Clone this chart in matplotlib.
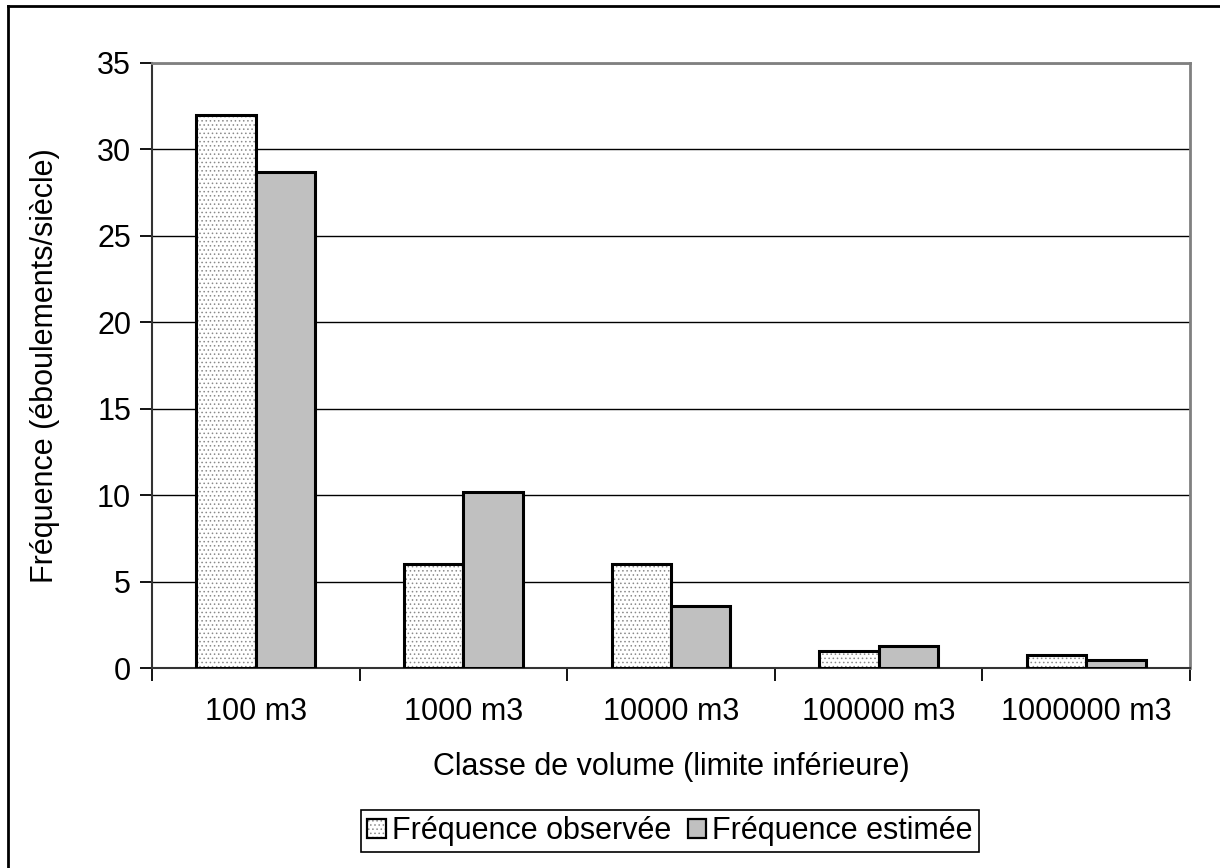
import matplotlib
matplotlib.use("Agg")
import matplotlib.pyplot as plt
import numpy as np
from matplotlib.patches import Patch
from matplotlib.lines import Line2D
from matplotlib.legend_handler import HandlerTuple

plt.rcParams['font.family'] = ['Liberation Sans', 'DejaVu Sans']
plt.rcParams['hatch.linewidth'] = 0.6

categories = ["100 m3", "1000 m3", "10000 m3", "100000 m3", "1000000 m3"]
observed = [32, 6, 6, 1.0, 0.75]
estimated = [28.7, 10.2, 3.6, 1.3, 0.45]
series_names = ["Fréquence observée", "Fréquence estimée"]
y_ticks = [0, 5, 10, 15, 20, 25, 30, 35]

FS = 22
W, H = 1220, 868
fig = plt.figure(figsize=(W / 100, H / 100), dpi=100)
ax = fig.add_axes([152 / W, 1 - 668 / H, (1190 - 152) / W, (668 - 63) / H])

x = np.arange(len(categories))
bw = 1 / 3.5

# observed: stippled fill, then a black outline on top
ax.bar(x - bw / 2, observed, bw, color="white", edgecolor="#8a8a8a",
       hatch="....", linewidth=0, zorder=3)
ax.bar(x - bw / 2, observed, bw, fill=False, edgecolor="black",
       linewidth=2.2, zorder=4)
# estimated: plain silver
ax.bar(x + bw / 2, estimated, bw, color="#c0c0c0", edgecolor="black",
       linewidth=2.2, zorder=4)

ax.set_xlim(-0.5, len(categories) - 0.5)
ax.set_ylim(0, 35)
ax.set_yticks(y_ticks)
ax.yaxis.grid(True, color="black", linewidth=1.0, zorder=1)
ax.set_axisbelow(True)

ax.set_xticks(x)
ax.set_xticklabels(categories, fontsize=FS)
ax.set_xticks(np.arange(len(categories) + 1) - 0.5, minor=True)
ax.tick_params(axis="x", which="major", length=0, pad=21)
ax.tick_params(axis="x", which="minor", length=9, width=1.3, direction="out", color="black")
ax.tick_params(axis="y", labelsize=FS, length=9, width=1.3, direction="out", pad=6)

for side in ("top", "right"):
    ax.spines[side].set_color("#808080")
    ax.spines[side].set_linewidth(2.0)
ax.spines["left"].set_color("#333333")
ax.spines["left"].set_linewidth(1.5)
ax.spines["bottom"].set_color("#333333")
ax.spines["bottom"].set_linewidth(1.5)

ax.set_xlabel("Classe de volume (limite inférieure)", fontsize=FS, labelpad=18)
ax.set_ylabel("Fréquence (éboulements/siècle)", fontsize=FS, labelpad=27)

# legend with stippled / silver square keys
h_obs = (Patch(facecolor="white", edgecolor="#8a8a8a", hatch="....", linewidth=0),
         Patch(fill=False, edgecolor="black", linewidth=1.6))
h_est = Patch(facecolor="#c0c0c0", edgecolor="black", linewidth=1.6)
leg = fig.legend([h_obs, h_est], series_names, loc="center",
                 bbox_to_anchor=(670 / W, 1 - 831 / H), ncol=2, fontsize=FS,
                 handler_map={tuple: HandlerTuple(ndivide=1, pad=0)},
                 handlelength=0.6, handleheight=0.6, handletextpad=0.2,
                 columnspacing=0.55, borderpad=0.2, borderaxespad=0,
                 fancybox=False, frameon=True, framealpha=1)
leg.get_frame().set_edgecolor("black")
leg.get_frame().set_linewidth(1.2)

# outer chart frame
fig.add_artist(Line2D([8 / W, 8 / W], [0, 1 - 6 / H], color="black", linewidth=2,
                      transform=fig.transFigure))
fig.add_artist(Line2D([8 / W, 1], [1 - 6 / H, 1 - 6 / H], color="black", linewidth=2,
                      transform=fig.transFigure))

fig.savefig("out.png", dpi=100)
